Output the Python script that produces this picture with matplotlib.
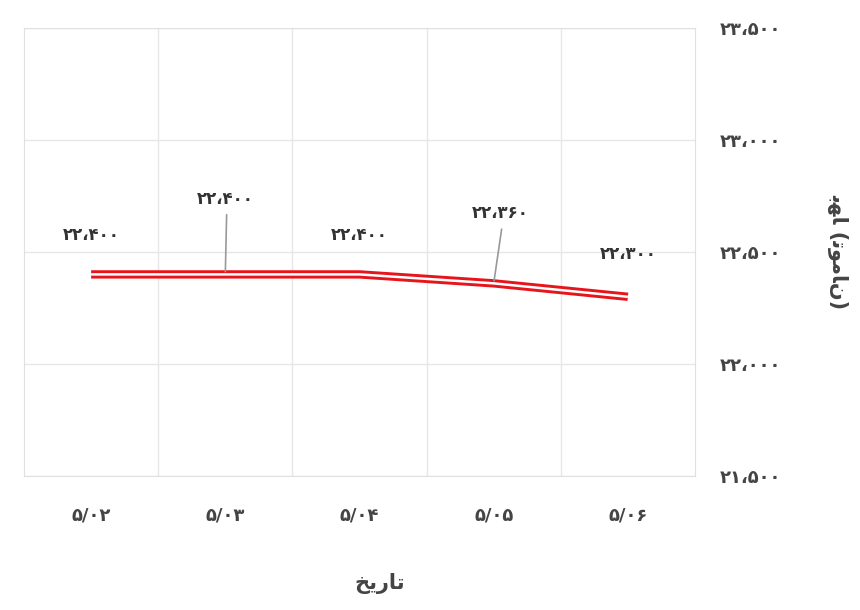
import matplotlib
matplotlib.use("Agg")
import matplotlib.pyplot as plt

plt.rcParams['font.family'] = ['DejaVu Sans']

categories = ["۵/۰۲", "۵/۰۳", "۵/۰۴", "۵/۰۵", "۵/۰۶"]
values = [22400, 22400, 22400, 22360, 22300]
y_ticks = [21500, 22000, 22500, 23000, 23500]

def fa(n):
    s = f"{n:,}".replace(",", "\u060c")
    return s.translate(str.maketrans("0123456789", "۰۱۲۳۴۵۶۷۸۹"))

fig = plt.figure(figsize=(8.6, 6.1), dpi=100)
ax = fig.add_axes([24/860, 1-476/610, 671/860, 448/610])
x = list(range(len(categories)))
ax.plot(x, values, color='#e8141b', lw=6, solid_capstyle='butt', zorder=3)
ax.plot(x, values, color='white', lw=1.8, solid_capstyle='butt', zorder=4)
ax.set_xlim(-0.5, 4.5)
ax.set_ylim(21500, 23500)
ax.set_yticks(y_ticks)
ax.set_yticklabels([fa(v) for v in y_ticks])
ax.yaxis.tick_right()
ax.set_xticks(x)
ax.set_xticklabels(categories)
ax.set_xticks([i + 0.5 for i in range(4)], minor=True)
ax.grid(True, which='minor', axis='x', color='#e6e6e6', lw=1)
ax.grid(True, which='major', axis='y', color='#e6e6e6', lw=1)
ax.tick_params(which='both', length=0)
ax.tick_params(axis='y', pad=18, labelsize=13, labelcolor='#444444')
ax.tick_params(axis='x', pad=22, labelsize=13, labelcolor='#444444')
for t in ax.get_xticklabels() + ax.get_yticklabels():
    t.set_fontweight('bold')
for s in ax.spines.values():
    s.set_color('#e0e0e0')

offsets = [(0, 22), (0, 48), (0, 22), (5, 44), (0, 24)]
for i, (v, (dx, dy)) in enumerate(zip(values, offsets)):
    ax.annotate(fa(v), xy=(i, v), xytext=(dx, dy), textcoords='offset points',
                ha='center', va='bottom', fontsize=12, fontweight='bold', color='#333333',
                zorder=5)
    if dy > 30:
        ax.annotate("", xy=(i, v), xytext=(dx + 1, dy - 3), textcoords='offset points',
                    arrowprops=dict(arrowstyle='-', color='#999999', lw=1.2), zorder=5)

fig.text(380/860, 1-583/610, "ﺦﯾﺭﺎﺗ", ha='center', va='center', fontsize=15,
         fontweight='bold', color='#444444')
fig.text(838/860, 1-252/610, "ﺑﻬﺎ (ﺗﻮﻣﺎﻥ)", ha='center', va='center', fontsize=15,
         fontweight='bold', color='#444444', rotation=270)

fig.savefig("out.png", dpi=100)
